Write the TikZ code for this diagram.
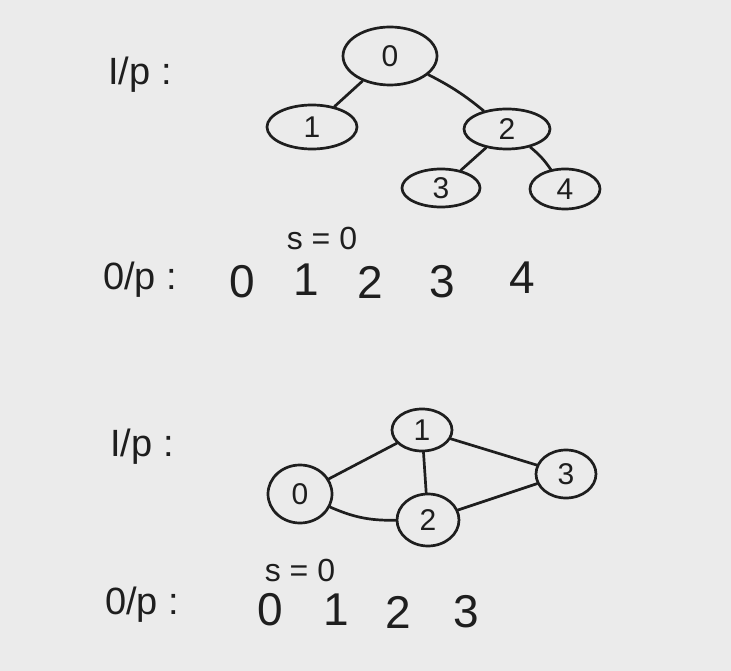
\documentclass[tikz,border=0pt]{standalone}
\usepackage{fontspec}
\setmainfont{Liberation Sans}
\usetikzlibrary{shapes.geometric}
\definecolor{board}{HTML}{EBEBEB}
\definecolor{ink}{HTML}{1E1E1E}
\begin{document}
\begin{tikzpicture}[x=1pt,y=-1pt,
  ink line/.style={draw=ink,line width=2.7pt,line cap=round},
  vert/.style={ellipse,draw=ink,line width=2.7pt,inner sep=0pt,text=ink,font=\fontsize{30}{30}\selectfont},
  big/.style={text=ink,font=\fontsize{46}{46}\selectfont,inner sep=0pt},
  mid/.style={text=ink,font=\fontsize{38}{38}\selectfont,inner sep=0pt},
  small/.style={text=ink,font=\fontsize{32}{32}\selectfont,inner sep=0pt}]
\fill[board] (0,0) rectangle (731,671);
\useasboundingbox (0,0) rectangle (731,671);
% ---------- top: tree ----------
\node[mid] (ip1) at (140,75) {I/p :};
\node[vert,minimum width=94pt,minimum height=58pt] (t0) at (390,56) {0};
\node[vert,minimum width=90pt,minimum height=44pt] (t1) at (312,127) {1};
\node[vert,minimum width=86pt,minimum height=40pt] (t2) at (507,129) {2};
\node[vert,minimum width=78pt,minimum height=38pt] (t3) at (441,188) {3};
\node[vert,minimum width=70pt,minimum height=40pt] (t4) at (565,189) {4};
\draw[ink line] (t0) -- (t1);
\draw[ink line] (t0) to[bend left=6] (t2);
\draw[ink line] (t2) -- (t3);
\draw[ink line] (t2) to[bend left=8] (t4);
\node[small] (s1) at (322,238) {s = 0};
\node[mid] (op1) at (140,280) {0/p :};
\node[big] (a0) at (242,282) {0};
\node[big] (a1) at (306,280) {1};
\node[big] (a2) at (370,282) {2};
\node[big] (a3) at (442,282) {3};
\node[big] (a4) at (522,278) {4};
% ---------- bottom: graph ----------
\node[mid] (ip2) at (142,447) {I/p :};
\node[vert,minimum width=64pt,minimum height=58pt] (g0) at (300,494) {0};
\node[vert,minimum width=60pt,minimum height=42pt] (g1) at (422,430) {1};
\node[vert,minimum width=62pt,minimum height=52pt] (g2) at (428,520) {2};
\node[vert,minimum width=60pt,minimum height=48pt] (g3) at (566,474) {3};
\draw[ink line] (g0) -- (g1);
\draw[ink line] (g1) -- (g2);
\draw[ink line] (g1) -- (g3);
\draw[ink line] (g0) to[bend right=12] (g2);
\draw[ink line] (g2) -- (g3);
\node[small] (s2) at (300,570) {s = 0};
\node[mid] (op2) at (142,605) {0/p :};
\node[big] (b0) at (270,610) {0};
\node[big] (b1) at (336,610) {1};
\node[big] (b2) at (398,612) {2};
\node[big] (b3) at (466,612) {3};
\end{tikzpicture}
\end{document}
